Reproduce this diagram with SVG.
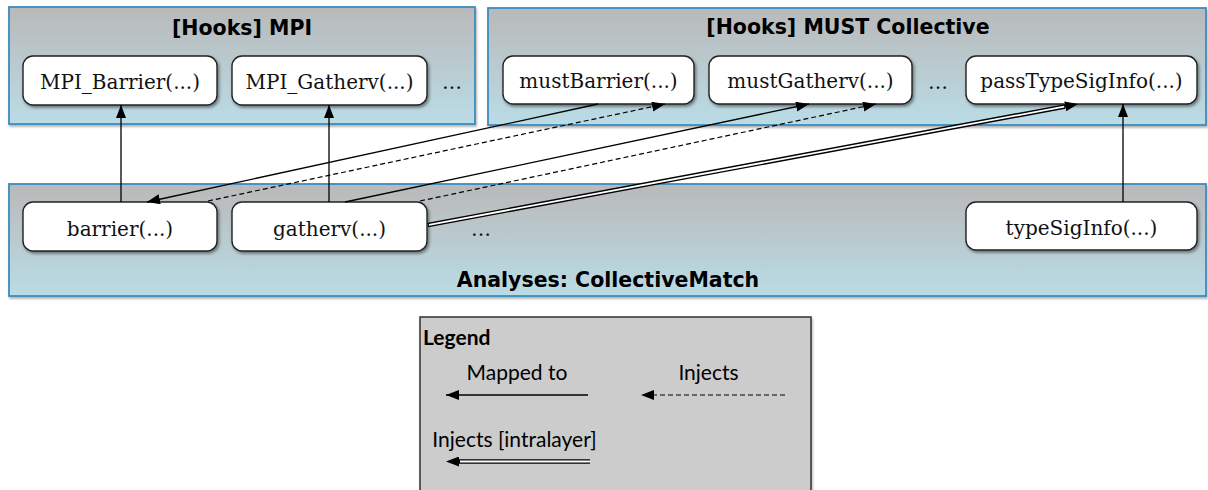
<svg xmlns="http://www.w3.org/2000/svg" width="1208" height="490" viewBox="0 0 1208 490">
  <defs>
    <linearGradient id="pg" x1="0" y1="0" x2="0" y2="1">
      <stop offset="0" stop-color="#b9b9b9"/>
      <stop offset="1" stop-color="#badce6"/>
    </linearGradient>
    <filter id="sh" x="-10%" y="-20%" width="130%" height="160%">
      <feDropShadow dx="1.5" dy="2" stdDeviation="1.5" flood-color="#000" flood-opacity="0.45"/>
    </filter>
    <filter id="psh" x="-5%" y="-10%" width="110%" height="130%">
      <feDropShadow dx="1" dy="2" stdDeviation="1.2" flood-color="#000" flood-opacity="0.3"/>
    </filter>
    <marker id="arr" viewBox="0 0 13 10" refX="13" refY="5" markerWidth="13" markerHeight="10" markerUnits="userSpaceOnUse" orient="auto">
      <path d="M0,0 L13,5 L0,10 z" fill="#000"/>
    </marker>
    <marker id="arrB" viewBox="0 0 13 10" refX="0" refY="5" markerWidth="13" markerHeight="10" markerUnits="userSpaceOnUse" orient="auto">
      <path d="M0,0 L13,5 L0,10 z" fill="#000"/>
    </marker>
  </defs>
  <style>
    .panel { fill: url(#pg); stroke: #3c8cbe; stroke-width: 1.8; filter: url(#psh); }
    .ptitle { font-family: "DejaVu Sans", Verdana, sans-serif; font-weight: bold; font-size: 20.5px; text-anchor: middle; fill: #000; }
    .node { fill: #fff; stroke: #222; stroke-width: 1.4; filter: url(#sh); }
    .nt { font-family: "DejaVu Serif", serif; font-size: 20px; text-anchor: middle; fill: #111; }
    .map { fill: none; stroke: #000; stroke-width: 1.3; marker-end: url(#arr); }
    .inj { fill: none; stroke: #000; stroke-width: 1.2; stroke-dasharray: 5 3; marker-end: url(#arr); }
    .dbl { fill: none; stroke: #000; stroke-width: 4.6; marker-end: url(#arrB); }
    .dblw { fill: none; stroke: #fff; stroke-width: 1.8; }
    .lg { font-family: Lato, "Liberation Sans", sans-serif; font-size: 21px; fill: #000; }
  </style>

  <g id="panel-mpi">
    <rect class="panel" x="9" y="7" width="466" height="117"/>
    <text class="ptitle" x="242" y="35">[Hooks] MPI</text>
    <text class="nt" x="452" y="89">…</text>
  </g>
  <g id="panel-must">
    <rect class="panel" x="488" y="8" width="718" height="117"/>
    <text class="ptitle" x="848" y="34">[Hooks] MUST Collective</text>
    <text class="nt" x="938" y="89">…</text>
  </g>
  <g id="panel-analyses">
    <rect class="panel" x="9" y="184" width="1197" height="112"/>
    <text class="ptitle" x="608" y="287">Analyses: CollectiveMatch</text>
    <text class="nt" x="481" y="236">…</text>
  </g>

  <g id="node-mpi-barrier">
    <rect class="node" x="23" y="56" width="194" height="49" rx="10"/>
    <text class="nt" x="120" y="88.5">MPI_Barrier(...)</text>
  </g>
  <g id="node-mpi-gatherv">
    <rect class="node" x="232" y="56" width="195" height="49" rx="10"/>
    <text class="nt" x="329.5" y="88.5">MPI_Gatherv(...)</text>
  </g>
  <g id="node-must-barrier">
    <rect class="node" x="503" y="56" width="191" height="48" rx="10"/>
    <text class="nt" x="598.5" y="88">mustBarrier(...)</text>
  </g>
  <g id="node-must-gatherv">
    <rect class="node" x="709" y="56" width="203" height="48" rx="10"/>
    <text class="nt" x="810.5" y="88">mustGatherv(...)</text>
  </g>
  <g id="node-pass-typesiginfo">
    <rect class="node" x="966" y="56" width="231" height="48" rx="10"/>
    <text class="nt" x="1081.5" y="88">passTypeSigInfo(...)</text>
  </g>
  <g id="node-barrier">
    <rect class="node" x="23" y="202" width="194" height="49" rx="10"/>
    <text class="nt" x="120" y="236">barrier(...)</text>
  </g>
  <g id="node-gatherv">
    <rect class="node" x="232" y="202" width="195" height="49" rx="10"/>
    <text class="nt" x="329.5" y="236">gatherv(...)</text>
  </g>
  <g id="node-typesiginfo">
    <rect class="node" x="966" y="202" width="231" height="48" rx="10"/>
    <text class="nt" x="1081.5" y="235">typeSigInfo(...)</text>
  </g>

  <g id="connectors">
    <line class="map" x1="121" y1="202" x2="121" y2="105"/>
    <line class="map" x1="329" y1="202" x2="329" y2="105"/>
    <line class="map" x1="1123" y1="202" x2="1123" y2="104"/>
    <line class="map" x1="598" y1="104" x2="147" y2="202"/>
    <line class="inj" x1="208" y1="201" x2="665" y2="104"/>
    <line class="map" x1="345" y1="202" x2="809" y2="104"/>
    <line class="inj" x1="420" y1="201" x2="876" y2="104"/>
    <line class="dbl" x1="428" y1="225" x2="1065.2" y2="106.4"/>
    <line class="dblw" x1="429" y1="224.8" x2="1064.2" y2="106.6"/>
  </g>

  <g id="legend">
    <rect x="420" y="317" width="391" height="190" fill="#cccccc" stroke="#333" stroke-width="1.5" filter="url(#psh)"/>
    <text class="lg" x="423" y="345" font-weight="bold" font-size="20">Legend</text>
    <text class="lg" x="517" y="380" text-anchor="middle">Mapped to</text>
    <text class="lg" x="708.5" y="380" text-anchor="middle">Injects</text>
    <text class="lg" x="514.5" y="447" text-anchor="middle">Injects [intralayer]</text>
    <line class="map" x1="588" y1="395" x2="446" y2="395"/>
    <line class="inj" x1="785" y1="395" x2="641" y2="395"/>
    <line class="dbl" x1="590" y1="461.5" x2="459" y2="461.5"/>
    <line class="dblw" x1="590" y1="461.5" x2="460" y2="461.5"/>
  </g>
</svg>
